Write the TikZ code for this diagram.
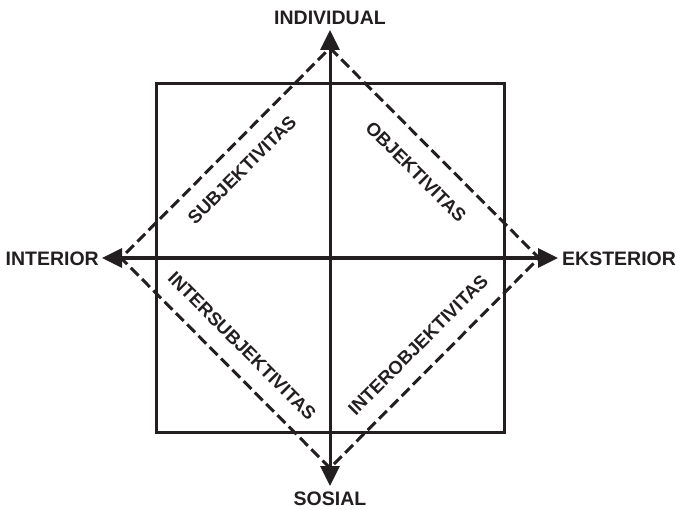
\documentclass[tikz,border=0pt]{standalone}
\usepackage{fontspec}
\setmainfont{Liberation Sans}
\usetikzlibrary{arrows.meta}
\definecolor{ink}{RGB}{35,31,32}
\begin{document}
\begin{tikzpicture}[x=1pt,y=-1pt,
  axislabel/.style={font=\fontsize{19.5}{22}\selectfont\bfseries, text=ink, inner sep=0pt},
  quadlabel/.style={font=\fontsize{18.5}{21}\selectfont\bfseries, text=ink, inner sep=0pt},
  axisline/.style={draw=ink, line width=3pt,
    {Triangle[length=20pt,width=19pt]}-{Triangle[length=20pt,width=19pt]}},
  diamondline/.style={draw=ink, line width=3pt, dash pattern=on 11pt off 5pt},
  framebox/.style={draw=ink, line width=3pt, minimum width=348pt,
    minimum height=348pt, inner sep=0pt}]
\useasboundingbox (0,0) rectangle (676,510);

% centre of the cross
\coordinate (o) at (330,258);

% outer square
\node[framebox] (frame) at (o) {};

% arrow ends of the two axes
\coordinate (top) at (330,30);
\coordinate (bot) at (330,486);
\coordinate (lft) at (102,258);
\coordinate (rgt) at (558,258);

% corners of the dashed diamond
\coordinate (dt) at (330,48);
\coordinate (db) at (330,468);
\coordinate (dl) at (121,258);
\coordinate (dr) at (539,258);

\draw[diamondline] (dt) -- (dr) -- (db) -- (dl) -- cycle;

% axes
\draw[axisline] (bot) -- (top);
\draw[axisline] (lft) -- (rgt);

% axis labels
\node[axislabel] (individual) at (330,17.5) {INDIVIDUAL};
\node[axislabel] (sosial) at (330,499) {SOSIAL};
\node[axislabel, anchor=east] (interior) at (99,258.5) {INTERIOR};
\node[axislabel, anchor=west] (eksterior) at (562,259) {EKSTERIOR};

% quadrant labels
\node[quadlabel, rotate=45] (subj) at (242,170) {SUBJEKTIVITAS};
\node[quadlabel, rotate=-45] (obj) at (416,172) {OBJEKTIVITAS};
\node[quadlabel, rotate=-45] (intsubj) at (242,346) {INTERSUBJEKTIVITAS};
\node[quadlabel, rotate=45] (intobj) at (418,345) {INTEROBJEKTIVITAS};
\end{tikzpicture}
\end{document}
